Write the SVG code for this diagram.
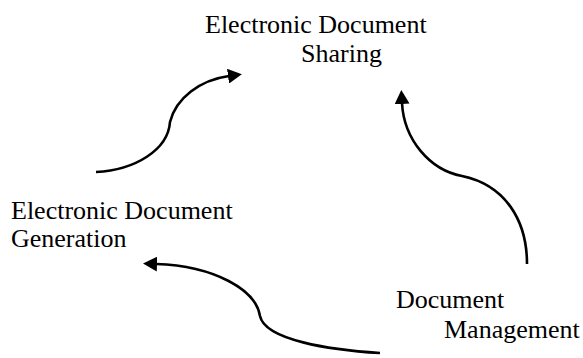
<svg xmlns="http://www.w3.org/2000/svg" width="583" height="358" viewBox="0 0 583 358">
<style>
  .lbl { font-family: "Liberation Serif", "Times New Roman", serif; font-size: 26px; fill: #000; }
  .conn { fill: none; stroke: #000; stroke-width: 2.6; marker-end: url(#arrow); }
</style>
<defs>
  <marker id="arrow" viewBox="0 0 14 15" markerWidth="14" markerHeight="15" refX="1" refY="7.5" orient="auto" markerUnits="userSpaceOnUse">
    <path d="M0,0 L14,7.5 L0,15 z" fill="#000"/>
  </marker>
</defs>
<rect width="583" height="358" fill="#fff"/>
<g id="node-sharing">
  <text class="lbl" x="205" y="33">Electronic Document</text>
  <text class="lbl" x="301" y="61.5">Sharing</text>
</g>
<g id="node-generation">
  <text class="lbl" x="11" y="218.5">Electronic Document</text>
  <text class="lbl" x="11" y="247">Generation</text>
</g>
<g id="node-management">
  <text class="lbl" x="396" y="308">Document</text>
  <text class="lbl" x="444" y="338">Management</text>
</g>
<g id="connectors">
  <path class="conn" d="M96,172 C135,170 168,150 170,122 C176,98 200,80 229,76"/>
  <path class="conn" d="M527,264 C527,220 505,185 462,176 C430,170 404,140 402,103"/>
  <path class="conn" d="M380,353 C330,350 265,340 260,316 C256,290 215,266 156,264"/>
</g>
</svg>
